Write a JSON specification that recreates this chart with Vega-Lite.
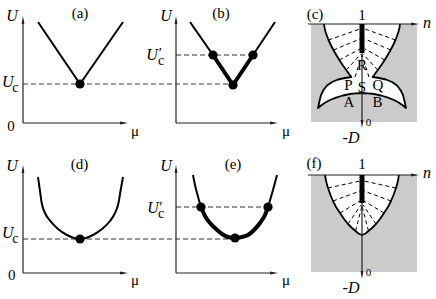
{
"$schema":"https://vega.github.io/schema/vega-lite/v6.json",
"width":436,"height":299,
"autosize":{"type":"fit","contains":"padding"},
"padding":0,
"background":"white",
"config":{"view":{"stroke":null}},
"encoding":{
 "x":{"field":"x","type":"quantitative","scale":{"domain":[0,436],"nice":false,"zero":false},"axis":null},
 "y":{"field":"y","type":"quantitative","scale":{"domain":[0,299],"nice":false,"zero":false,"reverse":true},"axis":null}
},
"layer":[
{"data":{"values":[{"x":311,"x2":417,"y":24,"y2":122},{"x":311,"x2":417,"y":175,"y2":272}]},
 "mark":{"type":"rect","fill":"#cbcbcb"},
 "encoding":{"x2":{"field":"x2"},"y2":{"field":"y2"}}},
{"data":{"values":[
 {"x":324.07,"x2":399.93,"y":24,"y2":26},{"x":324.37,"x2":399.63,"y":26,"y2":28},{"x":324.79,"x2":399.21,"y":28,"y2":30},{"x":325.3,"x2":398.7,"y":30,"y2":32},{"x":325.9,"x2":398.1,"y":32,"y2":34},{"x":326.6,"x2":397.4,"y":34,"y2":36},{"x":327.3,"x2":396.7,"y":36,"y2":38},{"x":328.1,"x2":395.9,"y":38,"y2":40},{"x":329,"x2":395,"y":40,"y2":42},{"x":329.9,"x2":394.1,"y":42,"y2":44},{"x":330.8,"x2":393.2,"y":44,"y2":46},{"x":331.8,"x2":392.2,"y":46,"y2":48},{"x":332.9,"x2":391.1,"y":48,"y2":50},{"x":334,"x2":390,"y":50,"y2":52},{"x":335.1,"x2":388.9,"y":52,"y2":54},{"x":336.3,"x2":387.7,"y":54,"y2":56},{"x":337.5,"x2":386.5,"y":56,"y2":58},{"x":338.7,"x2":385.3,"y":58,"y2":60},{"x":340,"x2":384,"y":60,"y2":62},{"x":341.3,"x2":382.7,"y":62,"y2":64},{"x":342.6,"x2":381.4,"y":64,"y2":66},{"x":344,"x2":380,"y":66,"y2":68},{"x":345.4,"x2":378.6,"y":68,"y2":70},{"x":346.9,"x2":377.1,"y":70,"y2":72},{"x":348.4,"x2":375.6,"y":72,"y2":74},{"x":349.9,"x2":374.1,"y":74,"y2":76},{"x":351,"x2":373,"y":76,"y2":77.5},
 {"x":318,"x2":319,"y":105.7,"y2":107.6},{"x":319,"x2":320,"y":101,"y2":106.75},{"x":320,"x2":321,"y":97,"y2":105.9},{"x":321,"x2":322,"y":94,"y2":105.15},{"x":322,"x2":323,"y":92,"y2":104.45},{"x":323,"x2":324,"y":90,"y2":103.75},{"x":324,"x2":326,"y":88.1,"y2":102.7},{"x":326,"x2":328,"y":85.5,"y2":101.6},{"x":328,"x2":330,"y":84.1,"y2":100.54},{"x":330,"x2":332,"y":82.7,"y2":99.6},{"x":332,"x2":334,"y":81.6,"y2":98.8},{"x":334,"x2":336,"y":80.7,"y2":98},{"x":336,"x2":338,"y":79.9,"y2":97.3},{"x":338,"x2":340,"y":79.3,"y2":96.7},{"x":340,"x2":342,"y":78.85,"y2":96.1},{"x":342,"x2":344,"y":78.4,"y2":95.5},{"x":344,"x2":346,"y":78,"y2":95.07},{"x":346,"x2":348,"y":77.7,"y2":94.64},{"x":348,"x2":350,"y":77.4,"y2":94.2},
 {"x":350,"x2":354,"y":76,"y2":93.77},{"x":354,"x2":358,"y":76,"y2":93.3},{"x":358,"x2":366,"y":76,"y2":93.05},{"x":366,"x2":370,"y":76,"y2":93.3},{"x":370,"x2":374,"y":76,"y2":93.77},
 {"x":374,"x2":376,"y":77.4,"y2":94.2},{"x":376,"x2":378,"y":77.7,"y2":94.64},{"x":378,"x2":380,"y":78,"y2":95.07},{"x":380,"x2":382,"y":78.4,"y2":95.5},{"x":382,"x2":384,"y":78.85,"y2":96.1},{"x":384,"x2":386,"y":79.3,"y2":96.7},{"x":386,"x2":388,"y":79.9,"y2":97.3},{"x":388,"x2":390,"y":80.7,"y2":98},{"x":390,"x2":392,"y":81.6,"y2":98.8},{"x":392,"x2":394,"y":82.7,"y2":99.6},{"x":394,"x2":396,"y":84.1,"y2":100.54},{"x":396,"x2":398,"y":85.5,"y2":101.6},{"x":398,"x2":400,"y":88.1,"y2":102.7},{"x":400,"x2":401,"y":90,"y2":103.75},{"x":401,"x2":402,"y":92,"y2":104.45},{"x":402,"x2":403,"y":94,"y2":105.15},{"x":403,"x2":404,"y":97,"y2":105.9},{"x":404,"x2":405,"y":101,"y2":106.75},{"x":405,"x2":406,"y":105.7,"y2":107.6},
 {"x":325.2,"x2":398.8,"y":175,"y2":177},{"x":325.6,"x2":398.4,"y":177,"y2":179},{"x":325.9,"x2":398.1,"y":179,"y2":181},{"x":326.3,"x2":397.7,"y":181,"y2":183},{"x":326.9,"x2":397.1,"y":183,"y2":185},{"x":327.4,"x2":396.6,"y":185,"y2":187},{"x":328,"x2":396,"y":187,"y2":189},{"x":328.7,"x2":395.3,"y":189,"y2":191},{"x":329.4,"x2":394.6,"y":191,"y2":193},{"x":330.1,"x2":393.9,"y":193,"y2":195},{"x":330.9,"x2":393.1,"y":195,"y2":197},{"x":331.75,"x2":392.25,"y":197,"y2":199},{"x":332.6,"x2":391.4,"y":199,"y2":201},{"x":333.5,"x2":390.5,"y":201,"y2":203},{"x":334.5,"x2":389.5,"y":203,"y2":205},{"x":335.5,"x2":388.5,"y":205,"y2":207},{"x":336.7,"x2":387.3,"y":207,"y2":209},{"x":338,"x2":386,"y":209,"y2":211},{"x":339.3,"x2":384.7,"y":211,"y2":213},{"x":340.7,"x2":383.3,"y":213,"y2":215},{"x":342,"x2":382,"y":215,"y2":217},{"x":343.3,"x2":380.7,"y":217,"y2":219},{"x":344.8,"x2":379.2,"y":219,"y2":221},
 {"x":345,"x2":347,"y":220,"y2":221.5},{"x":347,"x2":349,"y":220,"y2":224},{"x":349,"x2":351,"y":220,"y2":226},{"x":351,"x2":353,"y":220,"y2":228},{"x":353,"x2":355,"y":220,"y2":229.7},{"x":355,"x2":357,"y":220,"y2":231.4},{"x":357,"x2":359,"y":220,"y2":233.1},{"x":359,"x2":361,"y":220,"y2":234.1},{"x":361,"x2":363,"y":220,"y2":234.9},{"x":363,"x2":365,"y":220,"y2":234.1},{"x":365,"x2":367,"y":220,"y2":233.1},{"x":367,"x2":369,"y":220,"y2":231.4},{"x":369,"x2":371,"y":220,"y2":229.7},{"x":371,"x2":373,"y":220,"y2":228},{"x":373,"x2":375,"y":220,"y2":226},{"x":375,"x2":377,"y":220,"y2":224},{"x":377,"x2":379,"y":220,"y2":221.5}
 ]},
 "mark":{"type":"rect","fill":"white","stroke":"white","strokeWidth":0.6},
 "encoding":{"x2":{"field":"x2"},"y2":{"field":"y2"}}},
{"data":{"values":[
 {"x":328.5,"y":40,"x2":360,"y2":29},{"x":333.4,"y":50,"x2":360,"y2":39},{"x":339.3,"y":60,"x2":360,"y2":49},{"x":346.2,"y":70,"x2":361,"y2":54},{"x":355,"y":77,"x2":362,"y2":55},
 {"x":395.5,"y":40,"x2":365,"y2":29},{"x":390.6,"y":50,"x2":365,"y2":39},{"x":384.7,"y":60,"x2":365,"y2":49},{"x":377.8,"y":70,"x2":363,"y2":54},{"x":369,"y":77,"x2":362,"y2":55},
 {"x":328,"y":188,"x2":360,"y2":181},{"x":333,"y":201,"x2":360,"y2":191},{"x":340,"y":213,"x2":360,"y2":201},{"x":348,"y":224,"x2":361,"y2":205},{"x":355.5,"y":231,"x2":362,"y2":206},
 {"x":396,"y":188,"x2":364,"y2":181},{"x":391,"y":201,"x2":364,"y2":191},{"x":384,"y":213,"x2":364,"y2":201},{"x":376,"y":224,"x2":363,"y2":205},{"x":368.5,"y":231,"x2":362,"y2":206}
 ]},
 "mark":{"type":"rule","color":"black","strokeWidth":1,"strokeDash":[4,3]},
 "encoding":{"x2":{"field":"x2"},"y2":{"field":"y2"}}},
{"data":{"values":[
 {"g":"c","i":1,"x":324,"y":24},{"g":"c","i":2,"x":324.6,"y":28},{"g":"c","i":3,"x":325.6,"y":32},{"g":"c","i":4,"x":327,"y":36},{"g":"c","i":5,"x":328.5,"y":40},{"g":"c","i":6,"x":330.8,"y":45},{"g":"c","i":7,"x":333.4,"y":50},{"g":"c","i":8,"x":336.3,"y":55},{"g":"c","i":9,"x":339.3,"y":60},{"g":"c","i":10,"x":342.6,"y":65},{"g":"c","i":11,"x":346.2,"y":70},{"g":"c","i":12,"x":349.1,"y":74},{"g":"c","i":13,"x":351.4,"y":77},{"g":"c","i":14,"x":345,"y":78},{"g":"c","i":15,"x":338,"y":79.5},{"g":"c","i":16,"x":332,"y":82},{"g":"c","i":17,"x":327,"y":85.5},{"g":"c","i":18,"x":323.5,"y":90},{"g":"c","i":19,"x":321,"y":95},{"g":"c","i":20,"x":319.5,"y":101},{"g":"c","i":21,"x":318,"y":108},{"g":"c","i":22,"x":321,"y":105.5},{"g":"c","i":23,"x":325,"y":102.7},{"g":"c","i":24,"x":330,"y":100},{"g":"c","i":25,"x":336,"y":97.6},{"g":"c","i":26,"x":343,"y":95.5},{"g":"c","i":27,"x":350,"y":94},{"g":"c","i":28,"x":356,"y":93.3},{"g":"c","i":29,"x":362,"y":93},{"g":"c","i":30,"x":368,"y":93.3},{"g":"c","i":31,"x":374,"y":94},{"g":"c","i":32,"x":381,"y":95.5},{"g":"c","i":33,"x":388,"y":97.6},{"g":"c","i":34,"x":394,"y":100},{"g":"c","i":35,"x":399,"y":102.7},{"g":"c","i":36,"x":403,"y":105.5},{"g":"c","i":37,"x":406,"y":108},{"g":"c","i":38,"x":404.5,"y":101},{"g":"c","i":39,"x":403,"y":95},{"g":"c","i":40,"x":400.5,"y":90},{"g":"c","i":41,"x":397,"y":85.5},{"g":"c","i":42,"x":392,"y":82},{"g":"c","i":43,"x":386,"y":79.5},{"g":"c","i":44,"x":379,"y":78},{"g":"c","i":45,"x":372.6,"y":77},{"g":"c","i":46,"x":374.9,"y":74},{"g":"c","i":47,"x":377.8,"y":70},{"g":"c","i":48,"x":381.4,"y":65},{"g":"c","i":49,"x":384.7,"y":60},{"g":"c","i":50,"x":387.7,"y":55},{"g":"c","i":51,"x":390.6,"y":50},{"g":"c","i":52,"x":393.2,"y":45},{"g":"c","i":53,"x":395.5,"y":40},{"g":"c","i":54,"x":397,"y":36},{"g":"c","i":55,"x":398.4,"y":32},{"g":"c","i":56,"x":399.4,"y":28},{"g":"c","i":57,"x":400,"y":24},
 {"g":"f","i":1,"x":325,"y":175},{"g":"f","i":2,"x":326.3,"y":182},{"g":"f","i":3,"x":328,"y":188},{"g":"f","i":4,"x":330.5,"y":195},{"g":"f","i":5,"x":333,"y":201},{"g":"f","i":6,"x":336,"y":207},{"g":"f","i":7,"x":340,"y":213},{"g":"f","i":8,"x":344,"y":219},{"g":"f","i":9,"x":348,"y":224},{"g":"f","i":10,"x":352,"y":228},{"g":"f","i":11,"x":355.5,"y":231},{"g":"f","i":12,"x":358.5,"y":233.5},{"g":"f","i":13,"x":362,"y":235},{"g":"f","i":14,"x":365.5,"y":233.5},{"g":"f","i":15,"x":368.5,"y":231},{"g":"f","i":16,"x":372,"y":228},{"g":"f","i":17,"x":376,"y":224},{"g":"f","i":18,"x":380,"y":219},{"g":"f","i":19,"x":384,"y":213},{"g":"f","i":20,"x":388,"y":207},{"g":"f","i":21,"x":391,"y":201},{"g":"f","i":22,"x":393.5,"y":195},{"g":"f","i":23,"x":396,"y":188},{"g":"f","i":24,"x":397.7,"y":182},{"g":"f","i":25,"x":399,"y":175}
 ]},
 "mark":{"type":"line","color":"black","strokeWidth":1.8,"strokeJoin":"round"},
 "encoding":{"detail":{"field":"g"},"order":{"field":"i","type":"quantitative"}}},
{"data":{"values":[
 {"x":23,"y":123,"x2":23,"y2":20},{"x":23,"y":123,"x2":124,"y2":123},
 {"x":176,"y":123,"x2":176,"y2":20},{"x":176,"y":123,"x2":274,"y2":123},
 {"x":23,"y":273,"x2":23,"y2":169},{"x":23,"y":273,"x2":124,"y2":273},
 {"x":176,"y":273,"x2":176,"y2":169},{"x":176,"y":273,"x2":274,"y2":273},
 {"x":308,"y":24,"x2":415,"y2":24},{"x":362,"y":24,"x2":362,"y2":124},
 {"x":308,"y":175,"x2":415,"y2":175},{"x":362,"y":175,"x2":362,"y2":275}
 ]},
 "mark":{"type":"rule","color":"#222","strokeWidth":1.2},
 "encoding":{"x2":{"field":"x2"},"y2":{"field":"y2"}}},
{"data":{"values":[{"x":362,"y":24,"x2":362,"y2":53},{"x":362,"y":175,"x2":362,"y2":203}]},
 "mark":{"type":"rule","color":"black","strokeWidth":5,"strokeCap":"butt"},
 "encoding":{"x2":{"field":"x2"},"y2":{"field":"y2"}}},
{"data":{"values":[{"x":23,"y":20},{"x":176,"y":20},{"x":23,"y":169},{"x":176,"y":169}]},
 "mark":{"type":"point","shape":"M0,-1L0.35,1L-0.35,1Z","filled":true,"size":64,"color":"#222","opacity":1}},
{"data":{"values":[{"x":124,"y":123},{"x":274,"y":123},{"x":124,"y":273},{"x":274,"y":273},{"x":415,"y":24},{"x":415,"y":175}]},
 "mark":{"type":"point","shape":"M1,0L-1,0.35L-1,-0.35Z","filled":true,"size":64,"color":"#222","opacity":1}},
{"data":{"values":[{"x":362,"y":124},{"x":362,"y":275}]},
 "mark":{"type":"point","shape":"M0,1L0.35,-1L-0.35,-1Z","filled":true,"size":64,"color":"#222","opacity":1}},
{"data":{"values":[
 {"x":23,"y":84,"x2":233,"y2":84},{"x":176,"y":55,"x2":253,"y2":55},
 {"x":23,"y":239,"x2":235,"y2":239},{"x":176,"y":207,"x2":268,"y2":207}
 ]},
 "mark":{"type":"rule","color":"#333","strokeWidth":1,"strokeDash":[5,3]},
 "encoding":{"x2":{"field":"x2"},"y2":{"field":"y2"}}},
{"data":{"values":[
 {"g":"a","i":1,"x":38,"y":22},{"g":"a","i":2,"x":80,"y":84},{"g":"a","i":3,"x":123,"y":22},
 {"g":"bl","i":1,"x":190,"y":22},{"g":"bl","i":2,"x":213,"y":55},
 {"g":"br","i":1,"x":253,"y":55},{"g":"br","i":2,"x":275,"y":22}
 ]},
 "mark":{"type":"line","color":"black","strokeWidth":2},
 "encoding":{"detail":{"field":"g"},"order":{"field":"i","type":"quantitative"}}},
{"data":{"values":[
 {"g":"bt","i":1,"x":213,"y":55},{"g":"bt","i":2,"x":233,"y":85},{"g":"bt","i":3,"x":253,"y":55}
 ]},
 "mark":{"type":"line","color":"black","strokeWidth":4,"strokeJoin":"miter"},
 "encoding":{"detail":{"field":"g"},"order":{"field":"i","type":"quantitative"}}},
{"data":{"values":[
 {"g":"d","i":1,"x":38,"y":177},{"g":"d","i":2,"x":40,"y":191},{"g":"d","i":3,"x":41.7,"y":203},{"g":"d","i":4,"x":45,"y":213},{"g":"d","i":5,"x":50,"y":220.7},{"g":"d","i":6,"x":58,"y":229},{"g":"d","i":7,"x":67,"y":235},{"g":"d","i":8,"x":80,"y":239},{"g":"d","i":9,"x":93,"y":235},{"g":"d","i":10,"x":102,"y":229},{"g":"d","i":11,"x":110,"y":221},{"g":"d","i":12,"x":115,"y":213},{"g":"d","i":13,"x":118.5,"y":203},{"g":"d","i":14,"x":120.5,"y":191},{"g":"d","i":15,"x":123,"y":177},
 {"g":"el","i":1,"x":193,"y":175},{"g":"el","i":2,"x":195,"y":185},{"g":"el","i":3,"x":197,"y":193},{"g":"el","i":4,"x":201,"y":207},
 {"g":"er","i":1,"x":268,"y":207},{"g":"er","i":2,"x":271,"y":197},{"g":"er","i":3,"x":273,"y":190},{"g":"er","i":4,"x":277,"y":175}
 ]},
 "mark":{"type":"line","color":"black","strokeWidth":2,"interpolate":"monotone"},
 "encoding":{"detail":{"field":"g"},"order":{"field":"i","type":"quantitative"}}},
{"data":{"values":[
 {"g":"et","i":1,"x":201,"y":207},{"g":"et","i":2,"x":205,"y":216},{"g":"et","i":3,"x":210,"y":223},{"g":"et","i":4,"x":216,"y":229},{"g":"et","i":5,"x":222,"y":234},{"g":"et","i":6,"x":228,"y":237},{"g":"et","i":7,"x":235,"y":238},{"g":"et","i":8,"x":242,"y":237},{"g":"et","i":9,"x":248,"y":235},{"g":"et","i":10,"x":254,"y":230},{"g":"et","i":11,"x":260,"y":223},{"g":"et","i":12,"x":265,"y":215},{"g":"et","i":13,"x":268,"y":207}
 ]},
 "mark":{"type":"line","color":"black","strokeWidth":4,"interpolate":"monotone"},
 "encoding":{"detail":{"field":"g"},"order":{"field":"i","type":"quantitative"}}},
{"data":{"values":[
 {"x":80,"y":84},{"x":213,"y":55},{"x":253,"y":55},{"x":233,"y":85},
 {"x":80,"y":239},{"x":201,"y":207},{"x":268,"y":207},{"x":235,"y":238}
 ]},
 "mark":{"type":"point","shape":"circle","filled":true,"size":85,"color":"black","opacity":1}},
{"data":{"values":[
 {"t":"U","x":12,"y":21},{"t":"U","x":166,"y":20.5},{"t":"U","x":7.7,"y":87},{"t":"U","x":152,"y":59.5},
 {"t":"U","x":12,"y":170.7},{"t":"U","x":166,"y":170.5},{"t":"U","x":7.7,"y":238},{"t":"U","x":153,"y":213},
 {"t":"n","x":427,"y":27.5},{"t":"n","x":427,"y":178.3},{"t":"-D","x":351,"y":143.3},{"t":"-D","x":351,"y":293.3}
 ]},
 "mark":{"type":"text","font":"Liberation Serif","fontStyle":"italic","fontSize":16,"align":"center","baseline":"alphabetic","color":"black"},
 "encoding":{"text":{"field":"t"}}},
{"data":{"values":[
 {"t":"(a)","x":80,"y":18},{"t":"(b)","x":221,"y":18},{"t":"(c)","x":315,"y":18.5},
 {"t":"(d)","x":79.5,"y":168.5},{"t":"(e)","x":233,"y":168.5},{"t":"(f)","x":314,"y":168.3},
 {"t":"1","x":362,"y":20},{"t":"1","x":362,"y":168.5},
 {"t":"0","x":11,"y":130.5},{"t":"0","x":11.7,"y":280},
 {"t":"μ","x":135,"y":136.3},{"t":"μ","x":286,"y":136.3},{"t":"μ","x":135,"y":285.3},{"t":"μ","x":286,"y":285.3},
 {"t":"R","x":362,"y":70},{"t":"P","x":348.5,"y":90},{"t":"S","x":362,"y":91.5},{"t":"Q","x":378,"y":90},
 {"t":"A","x":349,"y":106.5},{"t":"B","x":377.5,"y":106.5}
 ]},
 "mark":{"type":"text","font":"Liberation Serif","fontSize":15,"align":"center","baseline":"alphabetic","color":"black"},
 "encoding":{"text":{"field":"t"}}},
{"data":{"values":[{"t":"c","x":15.3,"y":91.5},{"t":"c","x":161,"y":65},{"t":"c","x":15.3,"y":242.5},{"t":"c","x":161,"y":218}]},
 "mark":{"type":"text","font":"Liberation Serif","fontSize":14,"align":"center","baseline":"alphabetic","color":"black"},
 "encoding":{"text":{"field":"t"}}},
{"data":{"values":[{"t":"′","x":160.5,"y":58},{"t":"′","x":161,"y":211.5}]},
 "mark":{"type":"text","font":"Liberation Serif","fontSize":15,"align":"center","baseline":"alphabetic","color":"black"},
 "encoding":{"text":{"field":"t"}}},
{"data":{"values":[{"t":"0","x":368.5,"y":126},{"t":"0","x":368.5,"y":276}]},
 "mark":{"type":"text","font":"Liberation Serif","fontSize":11,"align":"center","baseline":"alphabetic","color":"black"},
 "encoding":{"text":{"field":"t"}}}
]
}
